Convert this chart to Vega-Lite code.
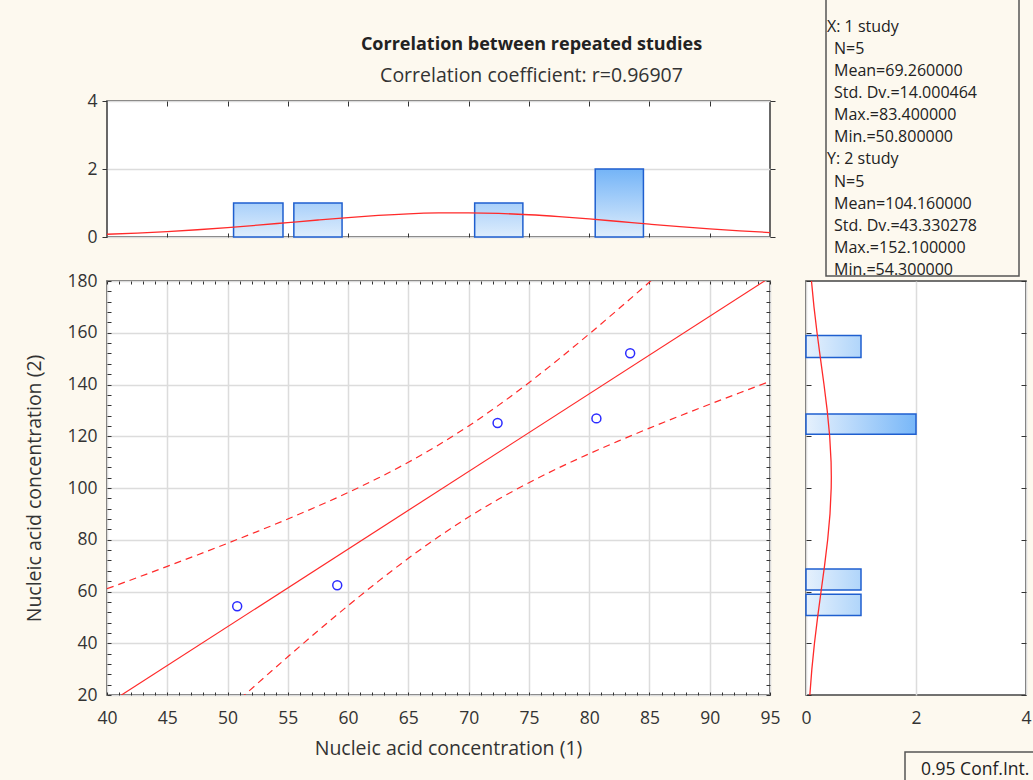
{
  "$schema": "https://vega.github.io/schema/vega-lite/v6.json",
  "autosize": "none",
  "padding": {"left": 107, "top": 101, "right": 926, "bottom": 679},
  "background": "#fdf9ef",
  "config": {
    "view": {"fill": "#ffffff", "stroke": "#444444", "strokeWidth": 1.6},
    "font": "Open Sans",
    "axis": {"domain": false, "labelFont": "Open Sans", "labelFontSize": 17.5, "labelColor": "#333333", "titleFont": "Open Sans", "titleFontSize": 19.5, "titleFontWeight": "normal", "titleColor": "#333333", "tickColor": "#333333", "gridColor": "#dcdcdc", "gridWidth": 1.5, "labelFlush": false, "labelOverlap": false}
  },
  "datasets": {
    "pts": [
      {"s1": 50.8, "s2": 54.3},
      {"s1": 59.1, "s2": 62.4},
      {"s1": 72.4, "s2": 125.1},
      {"s1": 80.6, "s2": 126.9},
      {"s1": 83.4, "s2": 152.1}
    ],
    "fit": [
      {"x": 40, "y": 16.40},
      {"x": 95, "y": 181.36}
    ],
    "ci": [
      {"bound": "upper", "x": 40, "y": 61.07},
      {"bound": "upper", "x": 42.5, "y": 65.36},
      {"bound": "upper", "x": 45, "y": 69.71},
      {"bound": "upper", "x": 47.5, "y": 74.13},
      {"bound": "upper", "x": 50, "y": 78.64},
      {"bound": "upper", "x": 52.5, "y": 83.25},
      {"bound": "upper", "x": 55, "y": 88.02},
      {"bound": "upper", "x": 57.5, "y": 93.00},
      {"bound": "upper", "x": 60, "y": 98.24},
      {"bound": "upper", "x": 62.5, "y": 103.86},
      {"bound": "upper", "x": 65, "y": 109.95},
      {"bound": "upper", "x": 67.5, "y": 116.63},
      {"bound": "upper", "x": 70, "y": 123.98},
      {"bound": "upper", "x": 72.5, "y": 132.03},
      {"bound": "upper", "x": 75, "y": 140.71},
      {"bound": "upper", "x": 77.5, "y": 149.91},
      {"bound": "upper", "x": 80, "y": 159.52},
      {"bound": "upper", "x": 82.5, "y": 169.45},
      {"bound": "upper", "x": 85, "y": 179.59},
      {"bound": "upper", "x": 87.5, "y": 189.92},
      {"bound": "upper", "x": 90, "y": 200.36},
      {"bound": "upper", "x": 92.5, "y": 210.91},
      {"bound": "upper", "x": 95, "y": 221.53},
      {"bound": "lower", "x": 40, "y": -28.27},
      {"bound": "lower", "x": 42.5, "y": -17.56},
      {"bound": "lower", "x": 45, "y": -6.91},
      {"bound": "lower", "x": 47.5, "y": 3.67},
      {"bound": "lower", "x": 50, "y": 14.15},
      {"bound": "lower", "x": 52.5, "y": 24.53},
      {"bound": "lower", "x": 55, "y": 34.76},
      {"bound": "lower", "x": 57.5, "y": 44.78},
      {"bound": "lower", "x": 60, "y": 54.53},
      {"bound": "lower", "x": 62.5, "y": 63.91},
      {"bound": "lower", "x": 65, "y": 72.82},
      {"bound": "lower", "x": 67.5, "y": 81.13},
      {"bound": "lower", "x": 70, "y": 88.78},
      {"bound": "lower", "x": 72.5, "y": 95.72},
      {"bound": "lower", "x": 75, "y": 102.04},
      {"bound": "lower", "x": 77.5, "y": 107.84},
      {"bound": "lower", "x": 80, "y": 113.22},
      {"bound": "lower", "x": 82.5, "y": 118.29},
      {"bound": "lower", "x": 85, "y": 123.14},
      {"bound": "lower", "x": 87.5, "y": 127.82},
      {"bound": "lower", "x": 90, "y": 132.36},
      {"bound": "lower", "x": 92.5, "y": 136.81},
      {"bound": "lower", "x": 95, "y": 141.19}
    ],
    "xhist": [
      {"lo": 50.5, "hi": 54.6, "count": 1},
      {"lo": 55.5, "hi": 59.5, "count": 1},
      {"lo": 70.5, "hi": 74.5, "count": 1},
      {"lo": 80.5, "hi": 84.5, "count": 2}
    ],
    "xnorm": [
      {"x": 40, "f": 0.0802}, {"x": 42.5, "f": 0.1147}, {"x": 45, "f": 0.1587}, {"x": 47.5, "f": 0.2129},
      {"x": 50, "f": 0.2765}, {"x": 52.5, "f": 0.3480}, {"x": 55, "f": 0.4241}, {"x": 57.5, "f": 0.5006},
      {"x": 60, "f": 0.5724}, {"x": 62.5, "f": 0.6340}, {"x": 65, "f": 0.6801}, {"x": 67.5, "f": 0.7068},
      {"x": 69.26, "f": 0.7124}, {"x": 70, "f": 0.7114}, {"x": 72.5, "f": 0.6935}, {"x": 75, "f": 0.6550},
      {"x": 77.5, "f": 0.5991}, {"x": 80, "f": 0.5308}, {"x": 82.5, "f": 0.4555}, {"x": 85, "f": 0.3787},
      {"x": 87.5, "f": 0.3049}, {"x": 90, "f": 0.2378}, {"x": 92.5, "f": 0.1796}, {"x": 95, "f": 0.1314}
    ],
    "yhist": [
      {"lo": 150.4, "hi": 158.9, "count": 1},
      {"lo": 120.8, "hi": 128.6, "count": 2},
      {"lo": 60.6, "hi": 68.7, "count": 1},
      {"lo": 50.7, "hi": 58.9, "count": 1}
    ],
    "ynorm": [
      {"y": 20, "f": 0.0698}, {"y": 30, "f": 0.1064}, {"y": 40, "f": 0.1538}, {"y": 50, "f": 0.2108},
      {"y": 60, "f": 0.2739}, {"y": 70, "f": 0.3374}, {"y": 80, "f": 0.3941}, {"y": 90, "f": 0.4364},
      {"y": 100, "f": 0.4582}, {"y": 104.16, "f": 0.4604}, {"y": 110, "f": 0.4562}, {"y": 120, "f": 0.4306},
      {"y": 130, "f": 0.3854}, {"y": 140, "f": 0.3270}, {"y": 150, "f": 0.2631}, {"y": 160, "f": 0.2007},
      {"y": 170, "f": 0.1451}, {"y": 180, "f": 0.0995}
    ],
    "stats": [
      {"line": 0, "kind": "head", "text": "X: 1 study"},
      {"line": 1, "kind": "item", "text": "N=5"},
      {"line": 2, "kind": "item", "text": "Mean=69.260000"},
      {"line": 3, "kind": "item", "text": "Std. Dv.=14.000464"},
      {"line": 4, "kind": "item", "text": "Max.=83.400000"},
      {"line": 5, "kind": "item", "text": "Min.=50.800000"},
      {"line": 6, "kind": "head", "text": "Y: 2 study"},
      {"line": 7, "kind": "item", "text": "N=5"},
      {"line": 8, "kind": "item", "text": "Mean=104.160000"},
      {"line": 9, "kind": "item", "text": "Std. Dv.=43.330278"},
      {"line": 10, "kind": "item", "text": "Max.=152.100000"},
      {"line": 11, "kind": "item", "text": "Min.=54.300000"}
    ],
    "legend": [{"text": "0.95 Conf.Int."}]
  },
  "columns": 2,
  "spacing": {"row": 44, "column": 36},
  "bounds": "flush",
  "concat": [
    {
      "width": 663,
      "height": 136,
      "title": {
        "text": "Correlation between repeated studies",
        "subtitle": "Correlation coefficient: r=0.96907",
        "frame": "group",
        "anchor": "middle",
        "dx": 93,
        "offset": 7,
        "font": "Open Sans",
        "fontSize": 18,
        "fontWeight": "bold",
        "color": "#222222",
        "subtitleFont": "Open Sans",
        "subtitleFontSize": 19.5,
        "subtitleColor": "#333333",
        "subtitlePadding": 13
      },
      "layer": [
        {
          "data": {"name": "xhist"},
          "transform": [{"filter": "datum.count < 2"}],
          "mark": {"type": "rect", "stroke": "#1f5fcf", "strokeWidth": 1.5,
                   "fill": {"gradient": "linear", "x1": 0, "y1": 0, "x2": 0, "y2": 1, "stops": [{"offset": 0, "color": "#a9d0fa"}, {"offset": 1, "color": "#deedfc"}]}},
          "encoding": {
            "x": {"field": "lo", "type": "quantitative", "scale": {"domain": [40, 95], "nice": false, "zero": false},
                  "axis": {"orient": "bottom", "title": null, "labels": false, "grid": false, "values": [45, 50, 55, 60, 65, 70, 75, 80, 85, 90], "tickSize": -4}},
            "x2": {"field": "hi"},
            "y": {"field": "count", "type": "quantitative", "scale": {"domain": [0, 4], "nice": false},
                  "axis": {"orient": "left", "title": null, "values": [0, 2, 4], "tickSize": 5, "labelPadding": 5, "grid": true}},
            "y2": {"datum": 0}
          }
        },
        {
          "data": {"name": "xhist"},
          "transform": [{"filter": "datum.count >= 2"}],
          "mark": {"type": "rect", "stroke": "#1f5fcf", "strokeWidth": 1.5,
                   "fill": {"gradient": "linear", "x1": 0, "y1": 0, "x2": 0, "y2": 1, "stops": [{"offset": 0, "color": "#74b4f7"}, {"offset": 1, "color": "#deedfc"}]}},
          "encoding": {
            "x": {"field": "lo", "type": "quantitative", "axis": null},
            "x2": {"field": "hi"},
            "y": {"field": "count", "type": "quantitative", "axis": null},
            "y2": {"datum": 0}
          }
        },
        {
          "data": {"name": "xnorm"},
          "mark": {"type": "line", "color": "#ff2a2a", "strokeWidth": 1.3, "interpolate": "monotone"},
          "encoding": {
            "x": {"field": "x", "type": "quantitative",
                  "axis": {"orient": "top", "title": null, "labels": false, "grid": false, "values": [45, 50, 55, 60, 65, 70, 75, 80, 85, 90], "tickSize": -5}},
            "y": {"field": "f", "type": "quantitative",
                  "axis": {"orient": "right", "title": null, "labels": false, "grid": false, "values": [0, 2, 4], "tickSize": 5}}
          }
        }
      ]
    },
    {
      "width": 220,
      "height": 136,
      "view": {"fill": null, "stroke": null},
      "resolve": {"scale": {"y": "independent"}},
      "layer": [
        {
          "data": {"name": "legend"},
          "mark": {"type": "rect", "fill": "#fdf9ef", "stroke": "#555555", "strokeWidth": 1.5, "clip": false},
          "encoding": {
            "x": {"datum": 20, "type": "quantitative", "scale": {"domain": [0, 220], "nice": false, "zero": false}, "axis": null},
            "x2": {"datum": 213},
            "y": {"datum": -104, "type": "quantitative", "scale": {"domain": [0, 136], "nice": false, "zero": false, "reverse": true}, "axis": null},
            "y2": {"datum": 175}
          }
        },
        {
          "data": {"name": "stats"},
          "transform": [{"filter": "datum.kind === 'head'"}],
          "mark": {"type": "text", "align": "left", "baseline": "middle", "font": "Open Sans", "fontSize": 16, "color": "#222222", "clip": false},
          "encoding": {
            "x": {"datum": 21, "type": "quantitative", "axis": null},
            "y": {"field": "line", "type": "quantitative", "scale": {"domain": [3.359, 9.507], "nice": false, "zero": false, "reverse": true}, "axis": null},
            "text": {"field": "text", "type": "nominal"}
          }
        },
        {
          "data": {"name": "stats"},
          "transform": [{"filter": "datum.kind === 'item'"}],
          "mark": {"type": "text", "align": "left", "baseline": "middle", "font": "Open Sans", "fontSize": 16, "color": "#222222", "clip": false},
          "encoding": {
            "x": {"datum": 28, "type": "quantitative", "axis": null},
            "y": {"field": "line", "type": "quantitative", "scale": {"domain": [3.359, 9.507], "nice": false, "zero": false, "reverse": true}, "axis": null},
            "text": {"field": "text", "type": "nominal"}
          }
        }
      ]
    },
    {
      "width": 663,
      "height": 414,
      "layer": [
        {
          "data": {"name": "ci"},
          "mark": {"type": "line", "color": "#ff2a2a", "strokeWidth": 1.2, "strokeDash": [7, 5], "clip": true, "interpolate": "monotone"},
          "encoding": {
            "x": {"field": "x", "type": "quantitative", "scale": {"domain": [40, 95], "nice": false, "zero": false},
                  "axis": {"orient": "bottom", "title": "Nucleic acid concentration (1)", "titleX": 341,
                           "values": [40,41,42,43,44,45,46,47,48,49,50,51,52,53,54,55,56,57,58,59,60,61,62,63,64,65,66,67,68,69,70,71,72,73,74,75,76,77,78,79,80,81,82,83,84,85,86,87,88,89,90,91,92,93,94,95],
                           "labelExpr": "datum.value % 5 === 0 ? datum.label : ''",
                           "gridOpacity": {"condition": {"test": "datum.value % 5 === 0", "value": 1}, "value": 0},
                           "tickSize": -3, "labelPadding": 17, "titlePadding": 13}},
            "y": {"field": "y", "type": "quantitative", "scale": {"domain": [20, 180], "nice": false, "zero": false},
                  "axis": {"orient": "left", "title": "Nucleic acid concentration (2)",
                           "values": [20,24,28,32,36,40,44,48,52,56,60,64,68,72,76,80,84,88,92,96,100,104,108,112,116,120,124,128,132,136,140,144,148,152,156,160,164,168,172,176,180],
                           "labelExpr": "datum.value % 20 === 0 ? datum.label : ''",
                           "gridOpacity": {"condition": {"test": "datum.value % 20 === 0", "value": 1}, "value": 0},
                           "tickSize": -4, "labelPadding": 14, "titlePadding": 22}},
            "detail": {"field": "bound", "type": "nominal"}
          }
        },
        {
          "data": {"name": "fit"},
          "mark": {"type": "line", "color": "#ff2a2a", "strokeWidth": 1.2, "clip": true},
          "encoding": {
            "x": {"field": "x", "type": "quantitative",
                  "axis": {"orient": "top", "title": null, "labels": false, "grid": false, "tickSize": -3,
                           "values": [40,41,42,43,44,45,46,47,48,49,50,51,52,53,54,55,56,57,58,59,60,61,62,63,64,65,66,67,68,69,70,71,72,73,74,75,76,77,78,79,80,81,82,83,84,85,86,87,88,89,90,91,92,93,94,95]}},
            "y": {"field": "y", "type": "quantitative",
                  "axis": {"orient": "right", "title": null, "labels": false, "grid": false, "tickSize": -4,
                           "values": [20,24,28,32,36,40,44,48,52,56,60,64,68,72,76,80,84,88,92,96,100,104,108,112,116,120,124,128,132,136,140,144,148,152,156,160,164,168,172,176,180]}}
          }
        },
        {
          "data": {"name": "pts"},
          "mark": {"type": "point", "shape": "circle", "filled": false, "stroke": "#2b2bff", "strokeWidth": 1.5, "size": 80, "opacity": 1},
          "encoding": {
            "x": {"field": "s1", "type": "quantitative", "axis": null},
            "y": {"field": "s2", "type": "quantitative", "axis": null}
          }
        }
      ]
    },
    {
      "width": 220,
      "height": 414,
      "layer": [
        {
          "data": {"name": "ynorm"},
          "mark": {"type": "line", "color": "#ff2a2a", "strokeWidth": 1.3, "opacity": 0},
          "encoding": {
            "x": {"field": "f", "type": "quantitative", "scale": {"domain": [0, 4], "nice": false, "zero": false},
                  "axis": {"orient": "bottom", "title": null, "values": [0, 2, 4], "ticks": false, "labelPadding": 14, "grid": true}},
            "y": {"field": "y", "type": "quantitative", "scale": {"domain": [20, 180], "nice": false, "zero": false},
                  "axis": {"orient": "left", "title": null, "labels": false, "grid": false, "values": [20, 40, 60, 80, 100, 120, 140, 160, 180], "tickSize": -5}},
            "order": {"field": "y", "type": "quantitative"}
          }
        },
        {
          "data": {"name": "yhist"},
          "transform": [{"filter": "datum.count < 2"}],
          "mark": {"type": "rect", "stroke": "#1f5fcf", "strokeWidth": 1.5,
                   "fill": {"gradient": "linear", "x1": 0, "y1": 0, "x2": 1, "y2": 0, "stops": [{"offset": 0, "color": "#e6f1fd"}, {"offset": 1, "color": "#b0d5fa"}]}},
          "encoding": {
            "x": {"field": "count", "type": "quantitative", "axis": null},
            "x2": {"datum": 0},
            "y": {"field": "lo", "type": "quantitative", "axis": null},
            "y2": {"field": "hi"}
          }
        },
        {
          "data": {"name": "yhist"},
          "transform": [{"filter": "datum.count >= 2"}],
          "mark": {"type": "rect", "stroke": "#1f5fcf", "strokeWidth": 1.5,
                   "fill": {"gradient": "linear", "x1": 0, "y1": 0, "x2": 1, "y2": 0, "stops": [{"offset": 0, "color": "#e6f1fd"}, {"offset": 1, "color": "#78b7f8"}]}},
          "encoding": {
            "x": {"field": "count", "type": "quantitative", "axis": null},
            "x2": {"datum": 0},
            "y": {"field": "lo", "type": "quantitative", "axis": null},
            "y2": {"field": "hi"}
          }
        },
        {
          "data": {"name": "ynorm"},
          "mark": {"type": "line", "color": "#ff2a2a", "strokeWidth": 1.3},
          "encoding": {
            "x": {"field": "f", "type": "quantitative",
                  "axis": {"orient": "top", "title": null, "labels": false, "ticks": false, "grid": false}},
            "y": {"field": "y", "type": "quantitative",
                  "axis": {"orient": "right", "title": null, "labels": false, "grid": false, "values": [20, 40, 60, 80, 100, 120, 140, 160, 180], "tickSize": -5}},
            "order": {"field": "y", "type": "quantitative"}
          }
        },
        {
          "data": {"name": "legend"},
          "mark": {"type": "rect", "fill": "#fdf9ef", "stroke": "#555555", "strokeWidth": 1.5, "clip": false},
          "encoding": {
            "x": {"datum": 1.8, "type": "quantitative", "axis": null},
            "x2": {"datum": 4.8},
            "y": {"datum": -2.0, "type": "quantitative", "axis": null},
            "y2": {"datum": -20}
          }
        },
        {
          "data": {"name": "legend"},
          "mark": {"type": "text", "align": "left", "baseline": "middle", "font": "Open Sans", "fontSize": 17.5, "color": "#222222", "clip": false},
          "encoding": {
            "x": {"datum": 2.09, "type": "quantitative", "axis": null},
            "y": {"datum": -9.0, "type": "quantitative", "axis": null},
            "text": {"field": "text", "type": "nominal"}
          }
        }
      ]
    }
  ]
}
